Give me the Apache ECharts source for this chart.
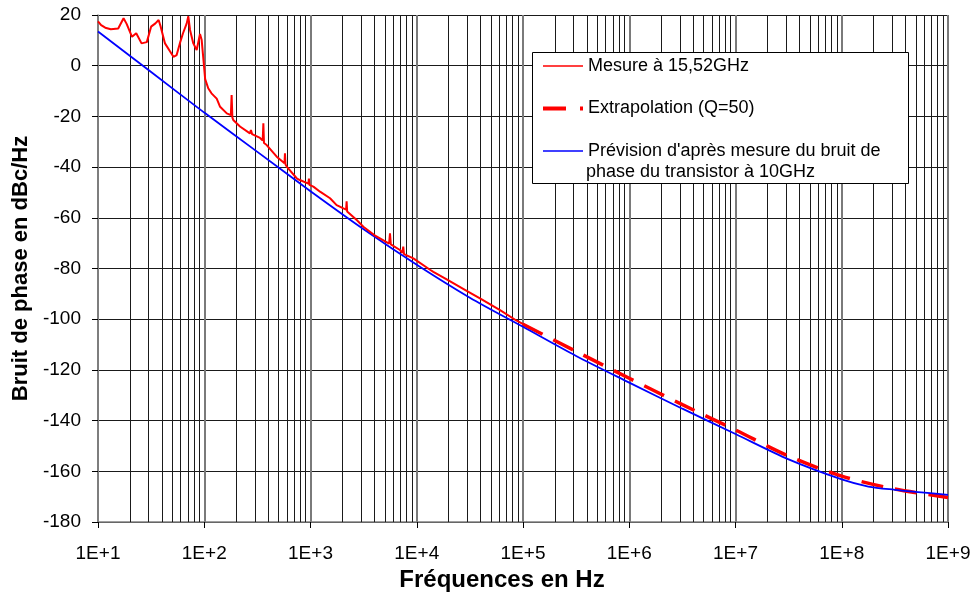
<!DOCTYPE html>
<html>
<head>
<meta charset="utf-8">
<script src="https://cdn.jsdelivr.net/npm/echarts@6/dist/echarts.min.js"></script>
<style>
html,body{margin:0;padding:0;background:#fff;}
#chart{width:976px;height:599px;}
</style>
</head>
<body>
<div id="chart"></div>
<script>
// ---- Data ----
// Measured phase noise at 15.52 GHz (frequency in Hz, dBc/Hz)
const measFreq = [10,10.7,11.7,13.2,15.5,17.4,18.6,20.9,22.9,25.7,28.8,31.6,34.7,37.2,38.9,42.7,47.9,51.3,55.0,58.9,63.1,68.4,70.8,73.5,78.9,84.9,91.2,94.6,98.0,102,109,117,131,141,163,178,181,184,187.5,217,269,275,282,335,355,360,365,387,481,569,575,582,597,741,794,955,966,977,1064,1230,1528,1762,2042,2163,2188,2213,2723,3141,3981,5495,5598,5702,6950,7328,7464,7586,9290,13335,14322,19143,29512,39355,60814,87297,112202,149968];
const measVal = [17.5,16,15,14.4,14.7,18.7,16.5,11.4,12.8,8.8,9.3,15.4,16.7,18,15.4,8.8,5.5,3.5,4.2,8.8,12.8,16.7,19.5,14.1,8.8,6.2,12.5,10.1,2.9,-5.3,-8.9,-10.9,-13,-16.2,-18.8,-19.5,-11.6,-20.5,-21.4,-24,-26.7,-25.4,-27,-28.5,-29.5,-22.7,-30.5,-31.3,-35.9,-38.5,-34.6,-39,-39.8,-44.4,-45.1,-46.5,-44.5,-47,-47.7,-49.7,-52.3,-55,-56.3,-56.8,-53.5,-57.5,-60.9,-63.5,-66.8,-70.2,-66.1,-70.5,-72.7,-73.8,-71.4,-74.3,-76,-80.5,-81.3,-84.3,-88.8,-91.8,-96.4,-100.6,-103,-105.8];

// Extrapolation (Q=50)
const extrFreq = [1e5,3.162e5,1e6,3.162e6,1e7,3.162e7,1e8,3.162e8,1e9];
const extrVal  = [-102,-112.7,-123.3,-133.7,-143.7,-154,-161.9,-167,-170.3];

// Prediction from transistor phase-noise measurement at 10 GHz
const predFreq = [10,31.62,100,316.2,1000,3162,1e4,3.162e4,1e5,3.162e5,1e6,3.162e6,1e7,3.162e7,1e8,1.778e8,3.162e8,5.623e8,1e9];
const predVal  = [13.5,-2.5,-18.5,-34,-49.5,-64.5,-78.5,-91.5,-103,-114.5,-125,-135.3,-145.3,-155.3,-163.2,-166,-167.3,-168.3,-169.3];

// Axis / tick definitions
const xDecadeExponents = [1,2,3,4,5,6,7,8,9];
const minorMultipliers = [2,3,4,5,6,7,8,9];
const yTicks = [-180,-160,-140,-120,-100,-80,-60,-40,-20,0,20];

const seriesNames = ['Mesure à 15,52GHz','Extrapolation (Q=50)',"Prévision d'après mesure du bruit de"];
const legendSecondLine = 'phase du transistor à 10GHz';
const xTitle = 'Fréquences en Hz';
const yTitle = 'Bruit de phase en dBc/Hz';

// ---- Build ----
const zip = (a,b) => a.map((v,i)=>[v,b[i]]);
const minorGridFreqs = [];
xDecadeExponents.slice(0,-1).forEach(e => minorMultipliers.forEach(m => minorGridFreqs.push(m*Math.pow(10,e))));

const FONT = "'Liberation Sans', Arial, sans-serif";
const chart = echarts.init(document.getElementById('chart'), null, {renderer:'canvas'});
const gridColor = '#1a1a1a';

chart.setOption({
  animation:false,
  backgroundColor:'#fff',
  grid:{left:98,right:28,top:15,bottom:77,containLabel:false},
  xAxis:{
    type:'log', logBase:10, min:10, max:1e9, splitNumber:8,
    name:xTitle, nameLocation:'middle', nameGap:36,
    nameTextStyle:{fontFamily:FONT,fontSize:24,fontWeight:'bold',color:'#000',padding:[0,42,0,0]},
    axisLine:{show:true,onZero:false,lineStyle:{color:'#808080',width:1.5}},
    axisTick:{show:true,length:6,lineStyle:{color:'#000'}},
    axisLabel:{fontFamily:FONT,fontSize:19,color:'#000',margin:22,
      formatter:v=>'1E+'+Math.round(Math.log10(v))},
    splitLine:{show:true,lineStyle:{color:'#7a7a7a',width:2}}
  },
  yAxis:{
    type:'value', min:yTicks[0], max:yTicks[yTicks.length-1], interval:20,
    name:yTitle, nameLocation:'middle', nameGap:58,
    nameTextStyle:{fontFamily:FONT,fontSize:22,fontWeight:'bold',color:'#000'},
    axisLine:{show:true,lineStyle:{color:'#808080',width:1.5}},
    axisTick:{show:true,length:6,lineStyle:{color:'#000'}},
    axisLabel:{fontFamily:FONT,fontSize:19,color:'#000',margin:17},
    splitLine:{show:true,lineStyle:{color:gridColor,width:1}}
  },
  legend:{
    orient:'vertical', left:536, top:51, itemWidth:40, itemHeight:14, itemGap:22.5,
    z:10,
    itemStyle:{opacity:0},
    textStyle:{fontFamily:FONT,fontSize:18,color:'#000',lineHeight:20},
    data:[
      {name:seriesNames[0], lineStyle:{width:1.5}},
      {name:seriesNames[1], lineStyle:{width:4,type:[23,14]}},
      {name:seriesNames[2], lineStyle:{width:1.5}}
    ]
  },
  graphic:[
    {type:'rect', z:5, shape:{x:532.5,y:52.5,width:376,height:131}, style:{fill:'#fff',stroke:'#000',lineWidth:1}},
    {type:'text', z:11, x:586, y:172, style:{text:legendSecondLine, fontFamily:FONT, fontSize:18, fill:'#000', textVerticalAlign:'middle'}}
  ],
  series:[
    {name:seriesNames[1], type:'line', data:zip(extrFreq,extrVal), symbol:'none', smooth:0.3, z:2,
     lineStyle:{color:'#ff0000',width:3.5,type:[22,12]}, itemStyle:{color:'#ff0000'}},
    {name:seriesNames[2], type:'line', data:zip(predFreq,predVal), symbol:'none', smooth:0.3, z:3,
     lineStyle:{color:'#0000ff',width:1.8}, itemStyle:{color:'#0000ff'},
     markLine:{silent:true, symbol:['none','none'], label:{show:false}, z:1,
       lineStyle:{color:gridColor,width:1,type:'solid'},
       data:minorGridFreqs.map(f=>({xAxis:f}))}},
    {name:seriesNames[0], type:'line', data:zip(measFreq,measVal), symbol:'none', z:4,
     lineStyle:{color:'#ff0000',width:2}, itemStyle:{color:'#ff0000'}}
  ]
});
</script>
</body>
</html>
